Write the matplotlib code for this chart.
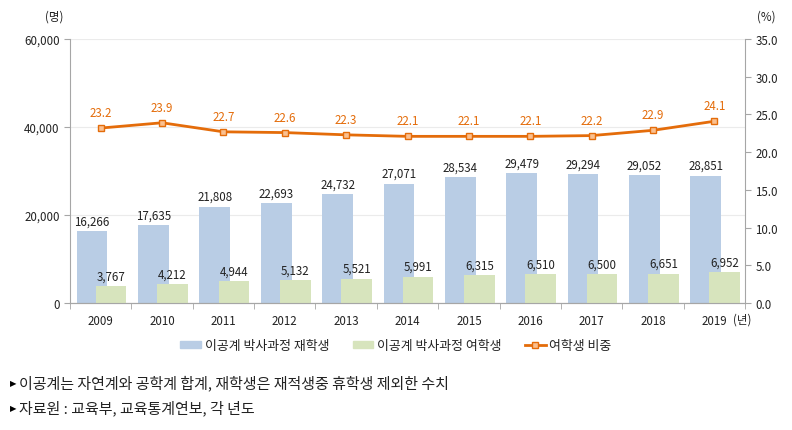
import matplotlib
matplotlib.use("Agg")
import matplotlib.pyplot as plt
import numpy as np
from matplotlib.patches import Patch
from matplotlib.lines import Line2D

plt.rcParams["font.family"] = ["Noto Sans CJK KR", "DejaVu Sans"]

years = ["2009", "2010", "2011", "2012", "2013", "2014",
         "2015", "2016", "2017", "2018", "2019"]
enrolled = [16266, 17635, 21808, 22693, 24732, 27071,
            28534, 29479, 29294, 29052, 28851]
female = [3767, 4212, 4944, 5132, 5521, 5991,
          6315, 6510, 6500, 6651, 6952]
female_share = [23.2, 23.9, 22.7, 22.6, 22.3, 22.1,
                22.1, 22.1, 22.2, 22.9, 24.1]

names = ["이공계 박사과정 재학생", "이공계 박사과정 여학생", "여학생 비중"]
notes = ["이공계는 자연계와 공학계 합계, 재학생은 재적생중 휴학생 제외한 수치",
         "자료원 : 교육부, 교육통계연보, 각 년도"]

blue = "#B9CDE5"
green = "#D7E4BD"
orange = "#E46C0A"
marker_face = "#FAC090"
axis_gray = "#A6A6A6"
text_col = "#222222"

fig = plt.figure(figsize=(7.92, 4.31), dpi=100)
ax = fig.add_axes([0.0884, 0.2947, 0.8523, 0.6123])
ax2 = ax.twinx()

x = np.arange(len(years))
w = 0.5
ax.bar(x - 0.14, enrolled, width=w, color=blue, zorder=2)
ax.bar(x + 0.17, female, width=w, color=green, zorder=3)

for xi, v in zip(x, enrolled):
    ax.text(xi - 0.14, v + 900, f"{v:,}", ha="center", va="bottom",
            fontsize=8.3, color=text_col, zorder=5)
for xi, v in zip(x, female):
    ax.text(xi + 0.17, v + 900, f"{v:,}", ha="center", va="bottom",
            fontsize=8.3, color=text_col, zorder=5)

ax2.plot(x, female_share, color=orange, lw=2, marker="s", ms=5,
         mfc=marker_face, mec=orange, mew=1, zorder=4)
for xi, v in zip(x, female_share):
    ax2.text(xi, v + 1.2, f"{v:.1f}", ha="center", va="bottom",
             fontsize=8.3, color=orange)

ax.set_xlim(-0.5, len(years) - 0.5)
ax.set_ylim(0, 60000)
ax.set_yticks([0, 20000, 40000, 60000])
ax.set_yticklabels(["0", "20,000", "40,000", "60,000"])
ax2.set_ylim(0, 35)
ax2.set_yticks(np.arange(0, 35.1, 5))
ax2.set_yticklabels([f"{t:.1f}" for t in np.arange(0, 35.1, 5)])

ax.set_xticks(x)
ax.set_xticklabels(years)
ax.set_xticks(np.arange(-0.5, len(years), 1), minor=True)
ax.tick_params(axis="x", which="major", length=0, pad=8, labelsize=8.3, labelcolor=text_col)
ax.tick_params(axis="x", which="minor", length=4, color=axis_gray, direction="out")
ax.tick_params(axis="y", length=4, color=axis_gray, labelsize=8.3, labelcolor=text_col)
ax2.tick_params(axis="y", length=4, color=axis_gray, labelsize=8.3, labelcolor=text_col)

ax.grid(axis="y", color="#EBEBEB", lw=0.8, zorder=0)
ax.set_axisbelow(True)
for a in (ax, ax2):
    a.spines["top"].set_visible(False)
    a.spines["left"].set_color(axis_gray)
    a.spines["right"].set_color(axis_gray)
    a.spines["bottom"].set_color(axis_gray)
ax.spines["right"].set_visible(False)
ax2.spines["left"].set_visible(False)

fig.text(0.069, 0.96, "(명)", ha="center", va="center", fontsize=8.3, color=text_col)
fig.text(0.967, 0.96, "(%)", ha="center", va="center", fontsize=8.3, color=text_col)
fig.text(0.925, 0.258, "(년)", ha="left", va="center", fontsize=8.3, color=text_col)

handles = [Patch(color=blue), Patch(color=green),
           Line2D([0], [0], color=orange, lw=2, marker="s", ms=5,
                  mfc=marker_face, mec=orange)]
fig.legend(handles, names, loc="center", bbox_to_anchor=(0.5, 0.195), ncol=3,
           frameon=False, fontsize=9.3, handlelength=1.6, handleheight=0.45,
           columnspacing=1.8, handletextpad=0.3, labelcolor=text_col)

for i, note in enumerate(notes):
    y = 0.111 - i * 0.058
    fig.text(0.012, y, "▶", ha="left", va="center", fontsize=6,
             family=["DejaVu Sans"], color="black")
    fig.text(0.024, y, note, ha="left", va="center", fontsize=10.8, color=text_col)

fig.savefig("out.png", dpi=100)
